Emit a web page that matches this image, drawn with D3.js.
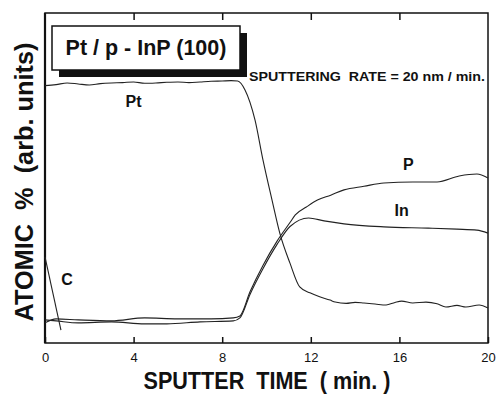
<!DOCTYPE html>
<html>
<head>
<meta charset="utf-8">
<script src="https://cdn.jsdelivr.net/npm/d3@7"></script>
<style>
  html, body { margin: 0; padding: 0; background: #fff; }
  #visualization { width: 496px; height: 395px; }
  text { font-family: "Liberation Sans", Arial, sans-serif; fill: #111; }
</style>
</head>
<body>
<div id="visualization"></div>
<script>
// Sputter depth profile data (arbitrary units 0-100)
const ptTime = [0, 0.5, 1, 1.5, 2, 2.5, 3, 3.5, 4, 4.5, 5, 5.5, 6, 6.5, 7, 7.5, 8, 8.4, 8.7,
  9.03, 9.48, 9.84, 10.25, 10.6, 11.06, 11.5, 11.96, 12.4, 12.87, 13.1, 13.6, 14.0, 14.4, 14.9,
  15.4, 15.8, 16.1, 16.6, 17.2, 17.7, 18.1, 18.6, 19.0, 19.6, 20];
const ptValue = [78.0, 78.3, 78.8, 78.5, 78.2, 78.6, 78.8, 78.9, 79.1, 78.7, 78.8, 79.0, 79.1, 78.9, 79.1, 79.3, 79.4, 79.5, 79.4,
  76.7, 67.6, 55.5, 43.3, 33.3, 24.2, 17.0, 15.2, 14.0, 13.0, 12.4, 12.0, 12.3, 12.1, 11.8,
  11.5, 12.3, 12.7, 12.1, 12.4, 11.9, 10.9, 11.4, 10.9, 11.5, 10.6];

const pTime = [0, 0.5, 1.5, 3, 4.5, 6, 7.5, 8.5, 8.8, 9.26, 9.84, 10.47, 11.06, 11.3, 11.8, 12.3,
  12.9, 13.5, 14.4, 15.3, 16.6, 17.7, 18.7, 19.5, 20];
const pValue = [6.1, 7.3, 7.0, 6.7, 7.6, 7.3, 7.3, 7.6, 8.2, 15.6, 23.5, 30.8, 36.5, 38.8, 41.2, 43.3,
  44.8, 46.4, 47.5, 48.5, 48.8, 48.8, 50.6, 51.2, 50.0];

const inTime = [0, 0.5, 1.5, 3, 4.5, 5.5, 7, 8.5, 8.8, 9.26, 9.84, 10.47, 11.06, 11.9, 12.6, 13.5,
  15.3, 17.3, 18.6, 19.5, 20];
const inValue = [7.0, 6.7, 6.1, 6.4, 5.8, 5.8, 6.4, 6.7, 7.6, 14.8, 22.5, 29.8, 35.3, 37.9, 37.0, 36.1,
  35.2, 34.8, 34.5, 34.2, 33.3];

const cTime = [0, 0.72];
const cValue = [26.1, 3.9];

const xTicks = [0, 4, 8, 12, 16, 20];

const width = 496;
const height = 395;
const margin = { top: 13, right: 8, bottom: 52, left: 45 };

const svg = d3.select('#visualization')
  .append('svg')
  .attr('width', width)
  .attr('height', height);

const x = d3.scaleLinear().domain([0, 20]).range([margin.left, width - margin.right]);
const y = d3.scaleLinear().domain([0, 100]).range([height - margin.bottom, margin.top]);

// frame
svg.append('rect')
  .attr('x', x(0))
  .attr('y', y(100))
  .attr('width', x(20) - x(0))
  .attr('height', y(0) - y(100))
  .attr('fill', 'none')
  .attr('stroke', '#111')
  .attr('stroke-width', 1.5);
svg.append('line')
  .attr('x1', x(0)).attr('x2', x(0))
  .attr('y1', y(100)).attr('y2', y(0))
  .attr('stroke', '#111')
  .attr('stroke-width', 2.2);

// bottom axis, ticks pointing inward
const xAxis = svg.append('g')
  .attr('transform', `translate(0,${y(0)})`)
  .call(d3.axisBottom(x).tickValues(xTicks).tickSizeInner(-6).tickSizeOuter(0).tickPadding(10));
xAxis.select('.domain').remove();
xAxis.selectAll('line').attr('stroke', '#111').attr('stroke-width', 1.5);
xAxis.selectAll('text')
  .style('font-family', '"Liberation Sans", Arial, sans-serif')
  .style('font-size', '13px')
  .attr('fill', '#111');

// top axis, ticks only
const topAxis = svg.append('g')
  .attr('transform', `translate(0,${y(100)})`)
  .call(d3.axisTop(x).tickValues([4, 8, 12, 16]).tickSizeInner(-7).tickSizeOuter(0).tickFormat(''));
topAxis.select('.domain').remove();
topAxis.selectAll('line').attr('stroke', '#111').attr('stroke-width', 1.5);

// curves
const line = d3.line()
  .x(d => x(d[0]))
  .y(d => y(d[1]))
  .curve(d3.curveMonotoneX);

const series = [
  d3.zip(ptTime, ptValue),
  d3.zip(pTime, pValue),
  d3.zip(inTime, inValue),
  d3.zip(cTime, cValue)
];

svg.selectAll('path.curve')
  .data(series)
  .join('path')
  .attr('class', 'curve')
  .attr('d', line)
  .attr('fill', 'none')
  .attr('stroke', '#222')
  .attr('stroke-width', 1.1);

// curve labels
const labels = [
  { t: 'Pt', x: 4.0, y: 71.5 },
  { t: 'P', x: 16.4, y: 52.5 },
  { t: 'In', x: 16.1, y: 38.5 },
  { t: 'C', x: 1.0, y: 17.5 }
];
svg.selectAll('text.lbl')
  .data(labels)
  .join('text')
  .attr('class', 'lbl')
  .attr('x', d => x(d.x))
  .attr('y', d => y(d.y))
  .attr('text-anchor', 'middle')
  .style('font-size', '16px')
  .style('font-weight', 'bold')
  .text(d => d.t);

// title box with drop shadow
const box = { x: 52, y: 26, w: 188, h: 44 };
svg.append('rect')
  .attr('x', box.x + 7).attr('y', box.y + 7)
  .attr('width', box.w).attr('height', box.h)
  .attr('fill', '#111');
svg.append('rect')
  .attr('x', box.x).attr('y', box.y)
  .attr('width', box.w).attr('height', box.h)
  .attr('fill', '#fff')
  .attr('stroke', '#111')
  .attr('stroke-width', 1.5);
svg.append('text')
  .attr('x', box.x + box.w / 2)
  .attr('y', 55)
  .attr('text-anchor', 'middle')
  .style('font-size', '21.5px')
  .style('font-weight', 'bold')
  .text('Pt / p - InP (100)');

svg.append('text')
  .attr('x', 249)
  .attr('y', 81)
  .attr('textLength', 236)
  .attr('lengthAdjust', 'spacingAndGlyphs')
  .style('font-size', '13px')
  .style('font-weight', 'bold')
  .style('white-space', 'pre')
  .text('SPUTTERING  RATE = 20 nm / min.');

// axis titles
svg.append('text')
  .attr('x', 267)
  .attr('y', 389)
  .attr('text-anchor', 'middle')
  .attr('textLength', 247)
  .attr('lengthAdjust', 'spacingAndGlyphs')
  .style('font-size', '23px')
  .style('font-weight', 'bold')
  .style('white-space', 'pre')
  .text('SPUTTER  TIME  ( min. )');

svg.append('text')
  .attr('transform', 'translate(33,182) rotate(-90)')
  .attr('text-anchor', 'middle')
  .attr('textLength', 279)
  .attr('lengthAdjust', 'spacingAndGlyphs')
  .style('font-size', '25px')
  .style('font-weight', 'bold')
  .style('white-space', 'pre')
  .text('ATOMIC  %  (arb. units)');
</script>
</body>
</html>
